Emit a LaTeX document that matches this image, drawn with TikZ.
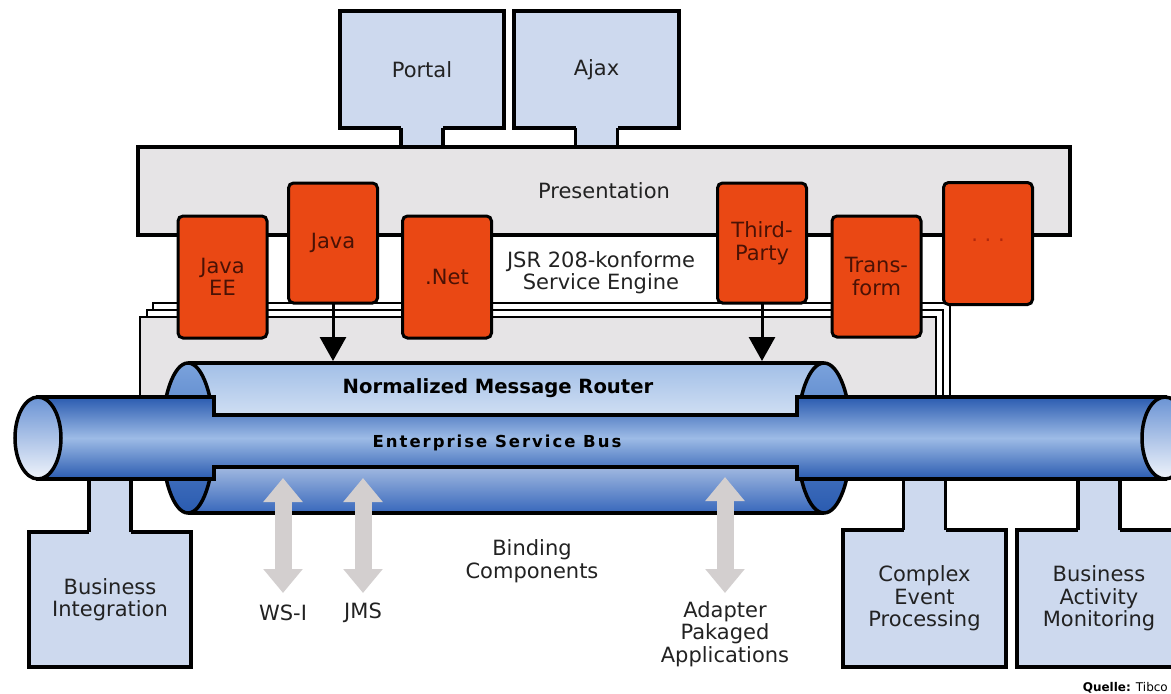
\documentclass[tikz,border=0pt]{standalone}
\usepackage{fontspec}
\setmainfont{DejaVu Sans}
\usetikzlibrary{arrows.meta,calc}

\definecolor{boxblue}{HTML}{CDD9EE}
\definecolor{presgray}{HTML}{E6E4E6}
\definecolor{orangebox}{HTML}{EA4814}
\definecolor{orangetext}{HTML}{4A1205}
\definecolor{dotred}{HTML}{B3280C}
\definecolor{inkcol}{HTML}{222222}
\definecolor{bindgray}{HTML}{D3CFCF}
\definecolor{esbdark}{HTML}{2A5BB0}
\definecolor{esblight}{HTML}{9DBBE6}
\definecolor{nmrtop}{HTML}{A2BFE7}
\definecolor{nmrmid}{HTML}{E3ECF8}
\definecolor{nmrbot}{HTML}{3767BB}
\definecolor{capfacetop}{HTML}{7AA2DC}
\definecolor{capfacebot}{HTML}{2A5BB0}
\definecolor{endfacetop}{HTML}{6A93D4}
\definecolor{endfacebot}{HTML}{F0F4FB}

% stem joining a light-blue box to the bar above or below it
% #1 anchor on the box, #2 coordinate giving the target height, #3 shift into the box
\newcommand{\boxstem}[3]{%
  \coordinate (stem-a) at ($(#1)+(-21,0)$);
  \coordinate (stem-b) at ($(#1)+(21,0)$);
  \fill[boxblue] ($(stem-a)+(#3)$) rectangle (stem-b |- #2);
  \draw[edge] (stem-a) -- (stem-a |- #2) (stem-b) -- (stem-b |- #2);
}

\begin{document}
\begin{tikzpicture}[x=1pt,y=-1pt,
  every node/.style={font=\fontsize{21}{22.5}\selectfont, text=inkcol, align=center},
  edge/.style={line width=3.6pt, draw=black, line join=miter},
  bluebox/.style={draw=black, line width=3.6pt, fill=boxblue, outer sep=0pt, inner sep=0pt},
  presbox/.style={draw=black, line width=3.4pt, fill=presgray, outer sep=0pt, inner sep=0pt},
  obox/.style={draw=black, line width=3pt, fill=orangebox, rounded corners=5pt,
    minimum width=89pt, outer sep=0pt, inner sep=0pt, text=orangetext},
  stackline/.style={draw=black, line width=2.4pt},
  pipeline/.style={draw=black, line width=3.5pt},
  blackarrow/.style={draw=black, line width=3pt, -{Triangle[width=26pt,length=24pt]}},
  bindarrow/.style={draw=bindgray, line width=17pt,
    {Triangle[width=38pt,length=24pt]}-{Triangle[width=38pt,length=24pt]}},
  pipelabel/.style={font=\bfseries\fontsize{19.6}{22}\selectfont, text=black},
]
\useasboundingbox (0,0) rectangle (1171,694);
\clip (0,0) rectangle (1171,694);

% ---- service engine container (three stacked frames) ----
\draw[stackline, fill=white] (153,303) rectangle (950,450);
\draw[stackline, fill=white] (147,310) rectangle (943,450);
\draw[stackline, fill=presgray] (140,317) rectangle (936,450);

% ---- presentation clients ----
\coordinate (prestop) at (0,147);
\node[bluebox, minimum width=164pt, minimum height=117pt] (portal) at (422,69.5) {Portal};
\node[bluebox, minimum width=165pt, minimum height=117pt] (ajax) at (596.5,69.5) {Ajax};
\boxstem{portal.south}{prestop}{0,-2.5}
\boxstem{ajax.south}{prestop}{0,-2.5}
\node[presbox, minimum width=932pt, minimum height=88pt] (pres) at (604,191) {Presentation};

\node (jsr) at (601,272.5) {JSR 208-konforme\\Service Engine};

% ---- service engines ----
\node[obox, minimum height=122pt] (javaee) at (222.5,277) {Java\\EE};
\node[obox, minimum height=120pt] (java) at (333,243) {Java};
\node[obox, minimum height=122pt] (dotnet) at (447,277) {.Net};
\node[obox, minimum height=120pt] (third) at (762,243) {Third-\\Party};
\node[obox, minimum height=121pt] (trans) at (876.5,276.5) {Trans-\\form};
\node[obox, minimum height=122pt] (more) at (988,243.5) {\textcolor{dotred}{· · ·}};

% ---- consumers below the bus ----
\coordinate (esbbot) at (0,479);
\node[bluebox, minimum width=162pt, minimum height=135pt] (bi) at (110,599.5) {Business\\Integration};
\node[bluebox, minimum width=163pt, minimum height=137pt] (cep) at (924.5,598.5) {Complex\\Event\\Processing};
\node[bluebox, minimum width=164pt, minimum height=137pt] (bam) at (1099,598.5) {Business\\Activity\\Monitoring};
\boxstem{bi.north}{esbbot}{0,2.5}
\boxstem{cep.north}{esbbot}{0,2.5}
\boxstem{bam.north}{esbbot}{0,2.5}

% ---- normalized message router (outer pipe) ----
\shade[top color=nmrtop, bottom color=nmrbot, middle color=nmrmid] (188,363) rectangle (824,513);
\draw[pipeline] (188,363) -- (824,363) (188,513) -- (824,513);
\draw[pipeline, top color=capfacetop, bottom color=capfacebot] (188,438) ellipse [x radius=26pt, y radius=75pt];
\draw[pipeline, top color=capfacetop, bottom color=capfacebot] (824,438) ellipse [x radius=27pt, y radius=75pt];

% ---- enterprise service bus (inner pipe) ----
\draw[pipeline, top color=esbdark, bottom color=esbdark, middle color=esblight]
  (38,397) -- (214,397) -- (214,415) -- (797,415) -- (797,397) -- (1165,397)
  -- (1165,479) -- (797,479) -- (797,467) -- (214,467) -- (214,479) -- (38,479) -- cycle;
\draw[pipeline, top color=endfacetop, bottom color=endfacebot] (38,438) ellipse [x radius=23pt, y radius=41pt];
\draw[pipeline, top color=endfacetop, bottom color=endfacebot] (1165,438) ellipse [x radius=23pt, y radius=41pt];

\node[pipelabel] (nmrlabel) at (498,388) {Normalized Message Router};
\node[pipelabel, font=\bfseries\fontsize{16.5}{20}\selectfont\addfontfeatures{LetterSpace=12}] (esblabel) at (497,443) {Enterprise Service Bus};

% ---- engine to router ----
\coordinate (routertop) at (500,361);
\draw[blackarrow] (java.south) -- (java.south |- routertop);
\draw[blackarrow] (third.south) -- (third.south |- routertop);

% ---- binding components ----
\node (wsi) at (283,613) {WS-I};
\node (jms) at (363,613) {JMS};
\node (binding) at (532,561) {Binding\\Components};
\node (adapter) at (725,634) {Adapter\\Pakaged\\Applications};
\coordinate (wsi-top) at (283,478);
\coordinate (wsi-bot) at (283,593);
\coordinate (jms-top) at (363,478);
\coordinate (jms-bot) at (363,593);
\coordinate (adp-top) at (725,477);
\coordinate (adp-bot) at (725,593);
\draw[bindarrow] (wsi-top) -- (wsi-bot);
\draw[bindarrow] (jms-top) -- (jms-bot);
\draw[bindarrow] (adp-top) -- (adp-bot);

% ---- source note ----
\node[anchor=base east, inner sep=0pt, font=\fontsize{12}{14}\selectfont, text=black] (source) at (1168,691) {\textbf{Quelle:} Tibco};
\end{tikzpicture}
\end{document}
